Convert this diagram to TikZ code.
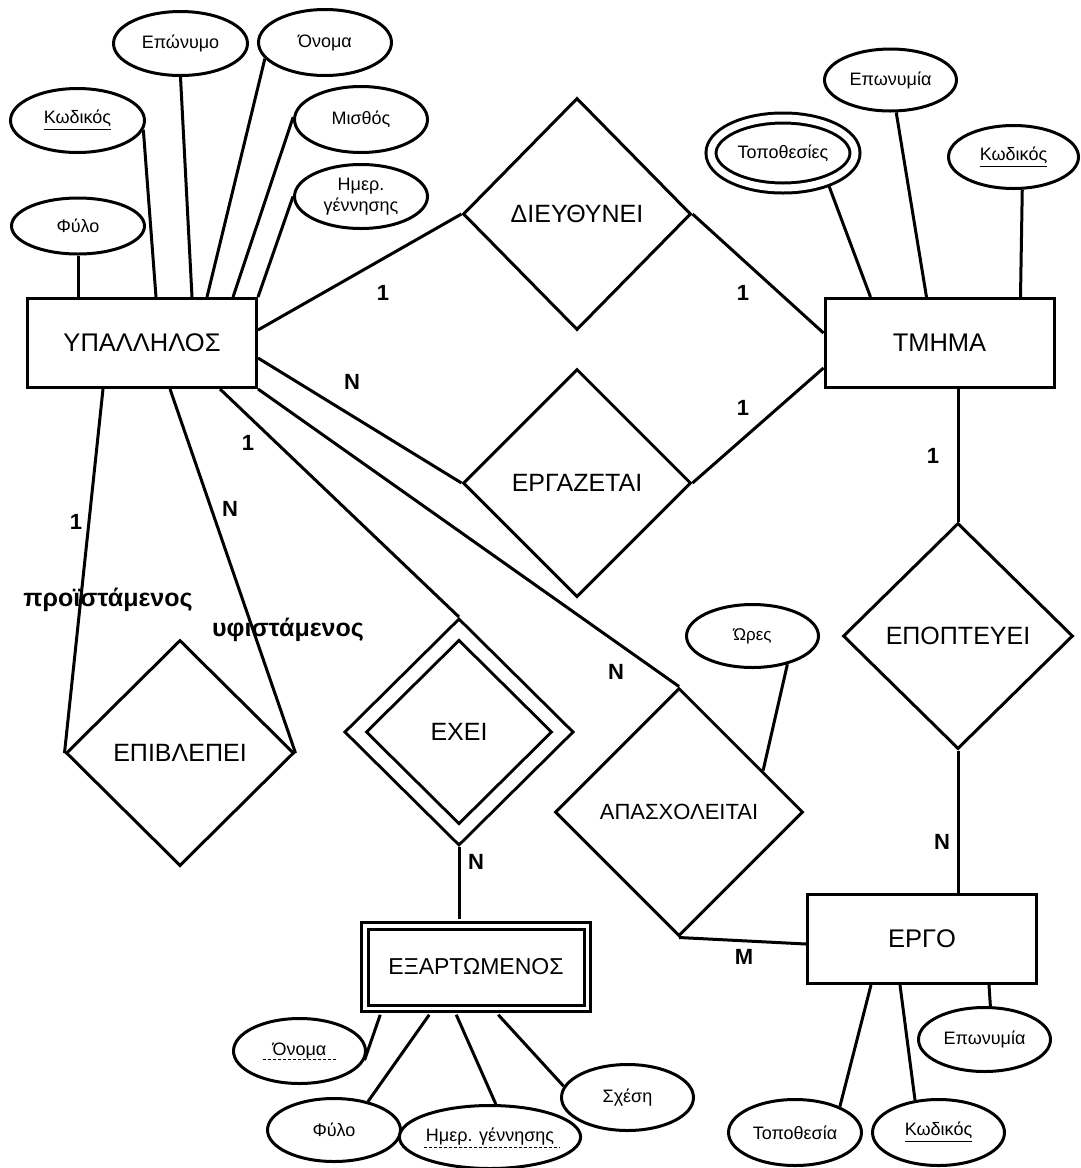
\documentclass[tikz,border=0pt]{standalone}
\usepackage{fontspec}
\setmainfont{Liberation Sans}
\usetikzlibrary{shapes.geometric,calc}
\begin{document}
\begin{tikzpicture}[x=0.5pt,y=-0.5pt,line width=1.5pt,
  attr/.style={ellipse,draw,fill=white,inner sep=0pt,font=\fontsize{9}{10.5}\selectfont},
  ent/.style={rectangle,draw,fill=white,inner sep=0pt,minimum width=114.5pt,minimum height=44.5pt,font=\fontsize{12.75}{15}\selectfont},
  rel/.style={diamond,draw,fill=white,inner sep=0pt,font=\fontsize{12.5}{15}\selectfont},
  relsmall/.style={rel,font=\fontsize{11}{13}\selectfont},
  card/.style={inner sep=0pt,font=\bfseries\fontsize{11}{13}\selectfont},
  role/.style={inner sep=0pt,font=\bfseries\fontsize{12.5}{14}\selectfont},
  dashul/.style={line width=0.4pt,dash pattern=on 1.5pt off 1pt}]
\useasboundingbox (0,0) rectangle (1081,1168);

% entities
\node[ent] (yp) at (142,343) {ΥΠΑΛΛΗΛΟΣ};
\node[ent] (tm) at (939.5,343) {ΤΜΗΜΑ};
\node[ent] (er) at (922,939) {ΕΡΓΟ};
\node[ent,double,double distance=1.75pt,minimum width=111.25pt,minimum height=41.25pt,outer sep=3.25pt,font=\fontsize{11.5}{13}\selectfont] (ex) at (476,967) {ΕΞΑΡΤΩΜΕΝΟΣ};

% relationships
\node[rel,minimum width=114pt,minimum height=116pt] (dieu) at (577,214) {ΔΙΕΥΘΥΝΕΙ};
\node[rel,minimum width=114pt,minimum height=114pt] (erg) at (577,483) {ΕΡΓΑΖΕΤΑΙ};
\node[rel,minimum width=114pt,minimum height=113pt] (epi) at (180,753) {ΕΠΙΒΛΕΠΕΙ};
\node[relsmall,minimum width=124pt,minimum height=124pt] (apa) at (679,812) {ΑΠΑΣΧΟΛΕΙΤΑΙ};
\node[rel,minimum width=115pt,minimum height=113pt] (epo) at (958,636) {ΕΠΟΠΤΕΥΕΙ};
\node[rel,double,double distance=6pt,outer sep=4.5pt,minimum width=107pt,minimum height=106pt] (exei) at (459,732) {ΕΧΕΙ};

% attributes of ΥΠΑΛΛΗΛΟΣ
\node[attr,minimum width=66.5pt,minimum height=28pt] (fy1) at (78,226) {Φύλο};
\node[attr,minimum width=67pt,minimum height=32pt] (kod1) at (77.5,120.5) {\underline{Κωδικός}};
\node[attr,minimum width=67pt,minimum height=32pt] (epon) at (180.5,43.5) {Επώνυμο};
\node[attr,minimum width=66.5pt,minimum height=33pt] (onom) at (325,42.5) {Όνομα};
\node[attr,minimum width=66.5pt,minimum height=33pt] (mis) at (361,119.5) {Μισθός};
\node[attr,minimum width=66.5pt,minimum height=32pt,align=center] (hm1) at (361,196.5) {Ημερ.\\γέννησης};

% attributes of ΤΜΗΜΑ
\node[attr,double,double distance=3.5pt,outer sep=3.25pt,minimum width=72pt,minimum height=35pt] (topo) at (783,153) {Τοποθεσίες};
\node[attr,minimum width=66pt,minimum height=31pt] (epw) at (890.5,80) {Επωνυμία};
\node[attr,minimum width=65pt,minimum height=31.5pt] (kod2) at (1013.5,157) {\underline{Κωδικός}};

% attribute of ΑΠΑΣΧΟΛΕΙΤΑΙ
\node[attr,minimum width=66pt,minimum height=31.5pt,font=\fontsize{8.5}{10}\selectfont] (oras) at (752.5,636) {Ώρες};

% attributes of ΕΡΓΟ
\node[attr,minimum width=66pt,minimum height=32pt] (ep3) at (984.5,1039.5) {Επωνυμία};
\node[attr,minimum width=66pt,minimum height=33pt] (kod3) at (938.5,1132.5) {\underline{Κωδικός}};
\node[attr,minimum width=66.5pt,minimum height=33pt] (topos) at (795,1132.5) {Τοποθεσία};

% attributes of ΕΞΑΡΤΩΜΕΝΟΣ
\node[attr,minimum width=66pt,minimum height=32.5pt] (on4) at (299.5,1051) {Όνομα};
\node[attr,minimum width=66.5pt,minimum height=31.5pt] (fy4) at (334,1130) {Φύλο};
\node[attr,minimum width=73.5pt,minimum height=31.5pt] (hm4) at (490,1137) {Ημερ. γέννησης};
\node[attr,minimum width=66pt,minimum height=33pt] (sx) at (627.5,1097.5) {Σχέση};
\draw[dashul] ($(on4.center)+(-37,8)$) -- ($(on4.center)+(38,8)$);
\draw[dashul] ($(hm4.center)+(-66,10)$) -- ($(hm4.center)+(70,10)$);

% attribute connectors
\draw (fy1.south) -- ($(yp.north west)+(52,0)$);
\draw (kod1.-8) -- ($(yp.north west)+(130,0)$);
\draw (epon.south) -- ($(yp.north west)+(166,0)$);
\draw (onom.195) -- ($(yp.north west)+(181,0)$);
\draw (mis.178) -- ($(yp.north west)+(207,0)$);
\draw (hm1.west) -- (yp.north east);

\draw (topo.-36) -- ($(tm.north west)+(47,0)$);
\draw (epw.-80) -- ($(tm.north west)+(103,0)$);
\draw (kod2.-75) -- ($(tm.north west)+(197,0)$);

\draw (ep3.80) -- ($(er.south west)+(183,0)$);
\draw (kod3.126) -- ($(er.south west)+(94,0)$);
\draw (topos.30) -- ($(er.south west)+(65,0)$);

\draw (on4.-8) -- ($(ex.south west)+(22,0)$);
\draw (fy4.40) -- ($(ex.south west)+(71,0)$);
\draw (hm4.80) -- ($(ex.south west)+(98,0)$);
\draw (sx.170) -- ($(ex.south west)+(140,0)$);

\draw (oras.-39) -- ($(apa.north)!0.67!(apa.east)$);

% relationship connectors
\draw ($(yp.east)+(0,-13)$) -- (dieu.west);
\draw (dieu.east) -- ($(tm.west)+(0,-10)$);
\draw ($(yp.east)+(0,15)$) -- (erg.west);
\draw (erg.east) -- ($(tm.west)+(0,25)$);
\draw (epo.north |- tm.south) -- (epo.north);
\draw (epo.south) -- (epo.south |- er.north);
\draw (apa.south) -- ($(er.west)+(0,5)$);
\draw ($(yp.south east)+(-38,0)$) -- (exei.north);
\draw (yp.south east) -- (apa.north);
\draw ($(yp.south west)+(77,0)$) -- (epi.west);
\draw ($(yp.south west)+(144,0)$) -- (epi.east);
\draw (exei.south) -- (exei.south |- ex.north);

% cardinalities
\node[card] (c1) at (383,293) {1};
\node[card] (c2) at (743,293) {1};
\node[card] (c3) at (352,382) {N};
\node[card] (c4) at (743,408) {1};
\node[card] (c5) at (248,443) {1};
\node[card] (c6) at (76,522) {1};
\node[card] (c7) at (230,509) {N};
\node[card] (c8) at (616,672) {N};
\node[card] (c9) at (476,862) {N};
\node[card] (c10) at (933,456) {1};
\node[card] (c11) at (942,842) {N};
\node[card] (c12) at (744,957) {M};
\node[role] (r1) at (108,600) {προϊστάμενος};
\node[role] (r2) at (288,630) {υφιστάμενος};
\end{tikzpicture}
\end{document}
